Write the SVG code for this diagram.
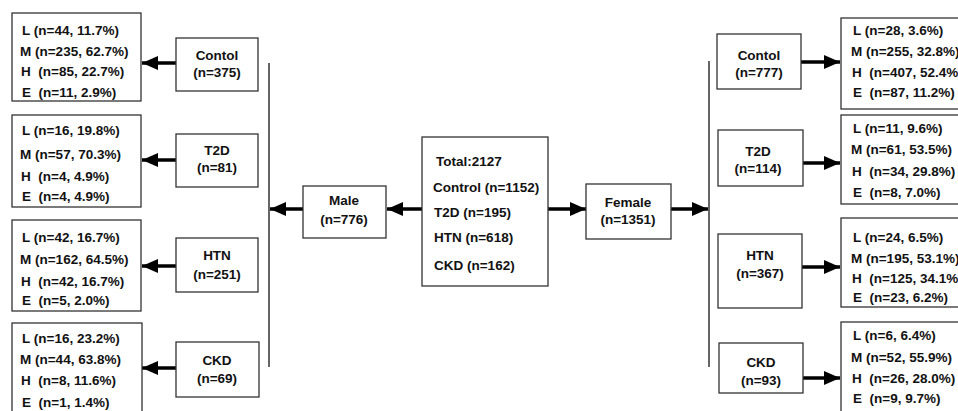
<svg xmlns="http://www.w3.org/2000/svg" width="958" height="411" viewBox="0 0 958 411" xml:space="preserve">
<defs>
<marker id="ah" markerUnits="userSpaceOnUse" markerWidth="18" markerHeight="14" refX="16" refY="7" orient="auto">
<path d="M0,0 L16,7 L0,14 Z" fill="#000"/>
</marker>
<style>
.b{fill:#fff;stroke:#333;stroke-width:1.3}
text{font-family:"Liberation Sans",Arial,sans-serif;font-weight:bold;font-size:13.5px;fill:#111;white-space:pre}
.c{text-anchor:middle}
.a{stroke:#000;stroke-width:3.5;fill:none;marker-end:url(#ah)}
.v{stroke:#333;stroke-width:1.5;fill:none}
</style>
</defs>
<rect width="958" height="411" fill="#fff"/>
<g id="connectors">
<line class="v" x1="269" y1="63" x2="269" y2="367"/>
<line class="v" x1="709" y1="61" x2="709" y2="367"/>
<line class="a" x1="422" y1="209" x2="387" y2="209"/>
<line class="a" x1="303" y1="209" x2="270" y2="209"/>
<line class="a" x1="548" y1="209" x2="586" y2="209"/>
<line class="a" x1="671" y1="209" x2="708" y2="209"/>
<line class="a" x1="176" y1="63" x2="142" y2="63"/>
<line class="a" x1="176" y1="160" x2="142" y2="160"/>
<line class="a" x1="176" y1="266" x2="142" y2="266"/>
<line class="a" x1="176" y1="368" x2="142" y2="368"/>
<line class="a" x1="801" y1="62" x2="840" y2="62"/>
<line class="a" x1="803" y1="163" x2="840" y2="163"/>
<line class="a" x1="802" y1="267" x2="840" y2="267"/>
<line class="a" x1="803" y1="378" x2="840" y2="378"/>
</g>
<g id="total">
<rect class="b" x="422" y="137" width="126" height="149"/>
<text x="436" y="166">Total:2127</text>
<text x="433" y="192">Control (n=1152)</text>
<text x="434" y="217">T2D (n=195)</text>
<text x="434" y="242">HTN (n=618)</text>
<text x="434" y="270">CKD (n=162)</text>
</g>
<g id="male">
<rect class="b" x="303" y="186" width="83" height="52"/>
<text class="c" x="344" y="205">Male</text>
<text class="c" x="344" y="224">(n=776)</text>
</g>
<g id="female">
<rect class="b" x="586" y="184" width="85" height="55"/>
<text class="c" x="628" y="207">Female</text>
<text class="c" x="628" y="224">(n=1351)</text>
</g>
<g id="m-control">
<rect class="b" x="176" y="38" width="82" height="53"/>
<text class="c" x="217" y="60">Contol</text>
<text class="c" x="217" y="77">(n=375)</text>
</g>
<g id="m-t2d">
<rect class="b" x="176" y="134" width="82" height="53"/>
<text class="c" x="217" y="155">T2D</text>
<text class="c" x="217" y="172">(n=81)</text>
</g>
<g id="m-htn">
<rect class="b" x="176" y="238" width="82" height="54"/>
<text class="c" x="217" y="260">HTN</text>
<text class="c" x="217" y="279">(n=251)</text>
</g>
<g id="m-ckd">
<rect class="b" x="176" y="342" width="83" height="55"/>
<text class="c" x="217" y="365">CKD</text>
<text class="c" x="217" y="383">(n=69)</text>
</g>
<g id="m-control-lvl">
<rect class="b" x="12" y="13" width="129" height="88"/>
<text x="22" y="35">L (n=44, 11.7%)</text>
<text x="20" y="56">M (n=235, 62.7%)</text>
<text x="21" y="76">H  (n=85, 22.7%)</text>
<text x="22" y="97">E  (n=11, 2.9%)</text>
</g>
<g id="m-t2d-lvl">
<rect class="b" x="12" y="115" width="129" height="92"/>
<text x="22" y="135">L (n=16, 19.8%)</text>
<text x="20" y="159">M (n=57, 70.3%)</text>
<text x="21" y="181">H  (n=4, 4.9%)</text>
<text x="22" y="201">E  (n=4, 4.9%)</text>
</g>
<g id="m-htn-lvl">
<rect class="b" x="12" y="220" width="129" height="91"/>
<text x="22" y="242">L (n=42, 16.7%)</text>
<text x="20" y="264">M (n=162, 64.5%)</text>
<text x="21" y="286">H  (n=42, 16.7%)</text>
<text x="22" y="305">E  (n=5, 2.0%)</text>
</g>
<g id="m-ckd-lvl">
<rect class="b" x="12" y="323" width="130" height="100"/>
<text x="22" y="343">L (n=16, 23.2%)</text>
<text x="20" y="364">M (n=44, 63.8%)</text>
<text x="21" y="385">H  (n=8, 11.6%)</text>
<text x="22" y="407">E  (n=1, 1.4%)</text>
</g>
<g id="f-control">
<rect class="b" x="717" y="34" width="84" height="55"/>
<text class="c" x="759" y="60">Contol</text>
<text class="c" x="759" y="77">(n=777)</text>
</g>
<g id="f-t2d">
<rect class="b" x="718" y="130" width="85" height="56"/>
<text class="c" x="758" y="156">T2D</text>
<text class="c" x="758" y="173">(n=114)</text>
</g>
<g id="f-htn">
<rect class="b" x="718" y="234" width="84" height="74"/>
<text class="c" x="760" y="260">HTN</text>
<text class="c" x="760" y="278">(n=367)</text>
</g>
<g id="f-ckd">
<rect class="b" x="719" y="343" width="84" height="50"/>
<text class="c" x="761" y="367">CKD</text>
<text class="c" x="761" y="385">(n=93)</text>
</g>
<g id="f-control-lvl">
<rect class="b" x="841" y="18" width="130" height="91"/>
<text x="853" y="35">L (n=28, 3.6%)</text>
<text x="851" y="56">M (n=255, 32.8%)</text>
<text x="852" y="77">H  (n=407, 52.4%)</text>
<text x="853" y="97">E  (n=87, 11.2%)</text>
</g>
<g id="f-t2d-lvl">
<rect class="b" x="841" y="115" width="130" height="89"/>
<text x="853" y="133">L (n=11, 9.6%)</text>
<text x="851" y="154">M (n=61, 53.5%)</text>
<text x="852" y="176">H  (n=34, 29.8%)</text>
<text x="853" y="197">E  (n=8, 7.0%)</text>
</g>
<g id="f-htn-lvl">
<rect class="b" x="841" y="218" width="130" height="89"/>
<text x="853" y="242">L (n=24, 6.5%)</text>
<text x="851" y="263">M (n=195, 53.1%)</text>
<text x="852" y="283">H  (n=125, 34.1%)</text>
<text x="853" y="302">E  (n=23, 6.2%)</text>
</g>
<g id="f-ckd-lvl">
<rect class="b" x="841" y="322" width="130" height="100"/>
<text x="853" y="340">L (n=6, 6.4%)</text>
<text x="851" y="362">M (n=52, 55.9%)</text>
<text x="852" y="383">H  (n=26, 28.0%)</text>
<text x="853" y="403">E  (n=9, 9.7%)</text>
</g>
</svg>
